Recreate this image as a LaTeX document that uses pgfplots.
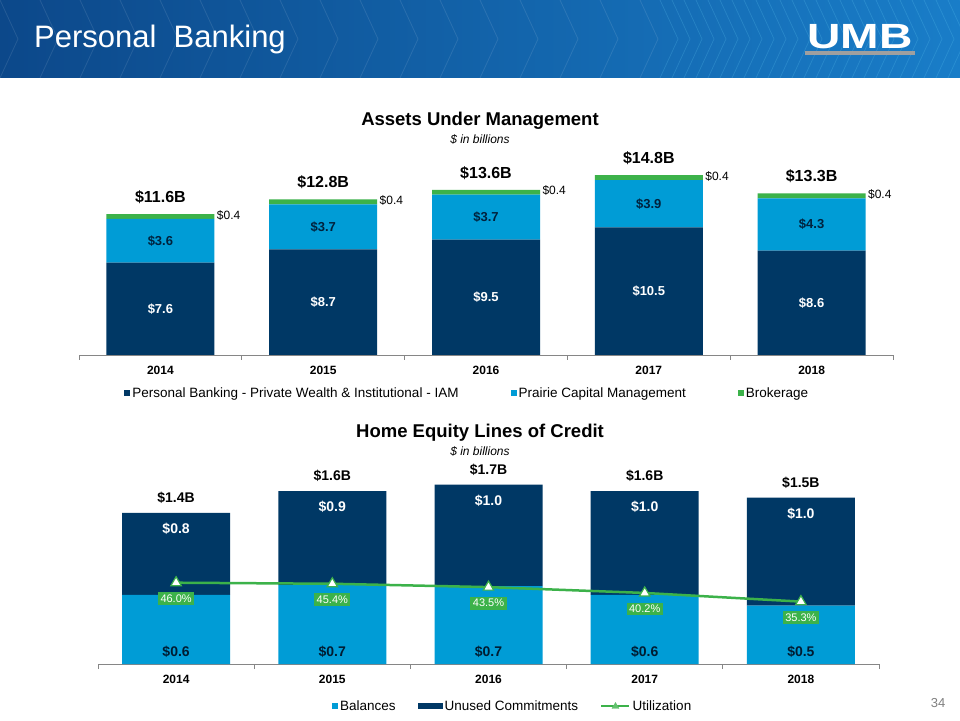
\documentclass[border=0pt]{standalone}
\usepackage{pgfplots}
\usepackage{pgfplotstable}
\pgfplotsset{compat=1.18}
\usepackage{fontspec}
\setmainfont{Liberation Sans}
\definecolor{navy}{RGB}{0,56,101}
\definecolor{lblue}{RGB}{0,156,214}
\definecolor{grn}{RGB}{60,178,74}
\definecolor{axgrey}{RGB}{134,134,134}
\definecolor{hdrL}{RGB}{12,72,138}
\definecolor{hdrR}{RGB}{25,125,200}

% Assets under management ($ billions)
\pgfplotstableread{
x pb pc br tot
0 7.6 3.6 0.4 11.6
1 8.7 3.7 0.4 12.8
2 9.5 3.7 0.4 13.6
3 10.5 3.9 0.4 14.8
4 8.6 4.3 0.4 13.3
}\aumdata
% label positions (segment middles)
\pgfplotstableread{
x dmid dlab lmid llab
0 3.80 7.6 9.40 3.6
1 4.35 8.7 10.55 3.7
2 4.75 9.5 11.35 3.7
3 5.25 10.5 12.45 3.9
4 4.30 8.6 10.75 4.3
}\aumlab
% HELOC ($ billions)
\pgfplotstableread{
x bal unu tot blab ulab tlab
0 0.64 0.76 1.40 0.6 0.8 1.4
1 0.73 0.87 1.60 0.7 0.9 1.6
2 0.72 0.94 1.66 0.7 1.0 1.7
3 0.64 0.96 1.60 0.6 1.0 1.6
4 0.54 1.00 1.54 0.5 1.0 1.5
}\heloc
\pgfplotstableread{
x u lab
0 46.0 46.0
1 45.4 45.4
2 43.5 43.5
3 40.2 40.2
4 35.3 35.3
}\util

\begin{document}
\begin{tikzpicture}[x=1pt,y=1pt]
\useasboundingbox (0,0) rectangle (960,720);
\fill[white] (0,0) rectangle (960,720);
% header
\shade[left color=hdrL, right color=hdrR] (0,642) rectangle (960,720);
\foreach \i in {0,40,...,640} {
  \draw[white, opacity=0.10, line width=0.8pt] (\i,720) -- (\i+18,681) -- (\i,642);
}
\foreach \i in {660,672,...,960} {
  \draw[cyan!60!white, opacity=0.22, line width=0.7pt] (\i,720) -- (\i+18,681) -- (\i,642);
}
\node[anchor=west, white, font=\fontsize{31}{32}\selectfont, inner sep=0pt] at (34,681) {Personal\ \ Banking};
\node[white, font=\bfseries\fontsize{35}{35}\selectfont, xscale=1.32, inner sep=0pt] at (860,683) {UMB};
\fill[gray!75] (805,665) rectangle (915,669);

% titles
\node[font=\bfseries\fontsize{18.5}{18.5}\selectfont] at (480,599) {Assets Under Management};
\node[font=\itshape\fontsize{12}{12}\selectfont] at (480,581) {\$ in billions};
\node[font=\bfseries\fontsize{18.5}{18.5}\selectfont] at (480,287) {Home Equity Lines of Credit};
\node[font=\itshape\fontsize{12}{12}\selectfont] at (480,269) {\$ in billions};
\node[text=gray, font=\fontsize{13}{13}\selectfont] at (938,17) {34};

% ===== top chart =====
\begin{axis}[
  at={(79pt,365pt)}, anchor=south west, scale only axis,
  width=814pt, height=194.4pt,
  xmin=-0.5, xmax=4.5, ymin=0, ymax=16,
  ybar stacked, bar width=108pt,
  axis y line=none, axis x line*=bottom,
  axis line style={draw=axgrey, line width=0.8pt},
  xtick={0,1,2,3,4}, xticklabels={2014,2015,2016,2017,2018},
  minor xtick={-0.5,0.5,1.5,2.5,3.5,4.5},
  xtick align=outside, major tick length=0pt, minor tick length=5pt,
  every minor tick/.append style={draw=axgrey, line width=0.8pt},
  xticklabel style={font=\bfseries\fontsize{12}{14}\selectfont, text=black, yshift=-8pt},
  legend style={at={(0.477,-0.195)}, anchor=center, draw=none, fill=none,
    legend columns=3, font=\fontsize{13.5}{15}\selectfont,
    /tikz/every even column/.append style={column sep=50pt}},
  legend image code/.code={\fill[#1] (0pt,-3pt) rectangle (6pt,3pt);},
]
\addplot[fill=navy, draw=none] table[x=x,y=pb]{\aumdata};
\addlegendentry{Personal Banking - Private Wealth \& Institutional - IAM}
\addplot[fill=lblue, draw=none] table[x=x,y=pc]{\aumdata};
\addlegendentry{Prairie Capital Management}
\addplot[fill=grn, draw=none] table[x=x,y=br]{\aumdata};
\addlegendentry{Brokerage}
\end{axis}
\begin{axis}[
  at={(79pt,365pt)}, anchor=south west, scale only axis,
  width=814pt, height=194.4pt,
  xmin=-0.5, xmax=4.5, ymin=0, ymax=16,
  hide axis, clip=false, point meta=explicit symbolic,
]
\addplot[draw=none, mark=none, nodes near coords={\$\pgfplotspointmeta},
  nodes near coords style={anchor=center, text=white, font=\bfseries\fontsize{13}{13}\selectfont}]
  table[x=x,y=dmid,meta=dlab]{\aumlab};
\addplot[draw=none, mark=none, nodes near coords={\$\pgfplotspointmeta},
  nodes near coords style={anchor=center, text=navy!60!black, font=\bfseries\fontsize{13}{13}\selectfont}]
  table[x=x,y=lmid,meta=llab]{\aumlab};
\addplot[draw=none, mark=none, nodes near coords={\$\pgfplotspointmeta},
  nodes near coords style={anchor=west, xshift=53pt, yshift=-1pt, text=black, font=\fontsize{12}{12}\selectfont}]
  table[x=x,y=tot,meta=br]{\aumdata};
\addplot[draw=none, mark=none, nodes near coords={\$\pgfplotspointmeta B},
  nodes near coords style={anchor=center, yshift=17pt, text=black, font=\bfseries\fontsize{16}{16}\selectfont}]
  table[x=x,y=tot,meta=tot]{\aumdata};
\end{axis}

% ===== bottom chart =====
\begin{axis}[
  at={(98pt,56pt)}, anchor=south west, scale only axis,
  width=781pt, height=194.4pt,
  xmin=-0.5, xmax=4.5, ymin=0, ymax=1.8,
  ybar stacked, bar width=108pt,
  axis y line=none, axis x line*=bottom,
  axis line style={draw=axgrey, line width=0.8pt},
  xtick={0,1,2,3,4}, xticklabels={2014,2015,2016,2017,2018},
  minor xtick={-0.5,0.5,1.5,2.5,3.5,4.5},
  xtick align=outside, major tick length=0pt, minor tick length=5pt,
  every minor tick/.append style={draw=axgrey, line width=0.8pt},
  xticklabel style={font=\bfseries\fontsize{12}{14}\selectfont, text=black, yshift=-8pt},
  legend style={at={(0.531,-0.216)}, anchor=center, draw=none, fill=none,
    legend columns=3, font=\fontsize{13.5}{15}\selectfont,
    /tikz/every even column/.append style={column sep=20pt}},
]
\addplot[fill=lblue, draw=none,
  legend image code/.code={\fill[lblue] (0pt,-3pt) rectangle (6pt,3pt);}]
  table[x=x,y=bal]{\heloc};
\addlegendentry{Balances}
\addplot[fill=navy, draw=none,
  legend image code/.code={\fill[navy] (0pt,-3pt) rectangle (25pt,3pt);}]
  table[x=x,y=unu]{\heloc};
\addlegendentry{Unused Commitments}
\addlegendimage{legend image code/.code={\draw[grn, line width=2.5pt] (0pt,0pt) -- (28pt,0pt); \fill[grn!80!white] (10.5pt,-2.5pt) -- (17.5pt,-2.5pt) -- (14pt,3.5pt) -- cycle;}}
\addlegendentry{Utilization}
\end{axis}
\begin{axis}[
  at={(98pt,56pt)}, anchor=south west, scale only axis,
  width=781pt, height=194.4pt,
  xmin=-0.5, xmax=4.5, ymin=0, ymax=1.8,
  hide axis, clip=false, point meta=explicit symbolic,
]
\addplot[draw=none, mark=none, nodes near coords={\$\pgfplotspointmeta B},
  nodes near coords style={anchor=center, yshift=15pt, text=black, font=\bfseries\fontsize{14}{14}\selectfont}]
  table[x=x,y=tot,meta=tlab]{\heloc};
\addplot[draw=none, mark=none, nodes near coords={\$\pgfplotspointmeta},
  nodes near coords style={anchor=center, yshift=-16pt, text=white, font=\bfseries\fontsize{14}{14}\selectfont}]
  table[x=x,y=tot,meta=ulab]{\heloc};
\addplot[draw=none, mark=none, nodes near coords={\$\pgfplotspointmeta},
  nodes near coords style={anchor=center, yshift=12pt, text=navy!50!black, font=\bfseries\fontsize{14}{14}\selectfont}]
  table[x=x,y expr=0,meta=blab]{\heloc};
\end{axis}
\begin{axis}[
  at={(98pt,56pt)}, anchor=south west, scale only axis,
  width=781pt, height=194.4pt,
  xmin=-0.5, xmax=4.5, ymin=0, ymax=110,
  hide axis, clip=false,
]
\addplot[grn, line width=2.5pt, mark=triangle*, mark size=6pt,
  mark options={fill=white, draw=grn, line width=1.2pt, solid}]
  table[x=x,y=u]{\util};
\addplot[draw=none, mark=none, point meta=explicit symbolic,
  nodes near coords={\pgfplotspointmeta\%},
  nodes near coords style={anchor=center, yshift=-16pt, fill=grn, text=white,
    inner sep=2.5pt, font=\fontsize{11}{11}\selectfont}]
  table[x=x,y=u,meta=lab]{\util};
\end{axis}
\end{tikzpicture}
\end{document}
